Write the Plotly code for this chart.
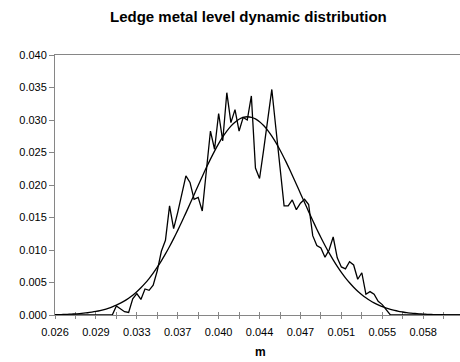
import plotly.graph_objects as go

# Bin positions of the metal level, m
level_m = [
    0.025700, 0.026062, 0.026424, 0.026786, 0.027148, 0.027510, 0.027872, 0.028234, 0.028596, 0.028958,
    0.029320, 0.029682, 0.030044, 0.030406, 0.030768, 0.031130, 0.031492, 0.031854, 0.032216, 0.032578,
    0.032940, 0.033302, 0.033664, 0.034026, 0.034388, 0.034750, 0.035112, 0.035474, 0.035836, 0.036198,
    0.036560, 0.036922, 0.037284, 0.037646, 0.038008, 0.038370, 0.038732, 0.039094, 0.039456, 0.039818,
    0.040180, 0.040542, 0.040904, 0.041266, 0.041628, 0.041990, 0.042352, 0.042714, 0.043076, 0.043438,
    0.043800, 0.044162, 0.044524, 0.044886, 0.045248, 0.045610, 0.045972, 0.046334, 0.046696, 0.047058,
    0.047420, 0.047782, 0.048144, 0.048506, 0.048868, 0.049230, 0.049592, 0.049954, 0.050316, 0.050678,
    0.051040, 0.051402, 0.051764, 0.052126, 0.052488, 0.052850, 0.053212, 0.053574, 0.053936, 0.054298,
    0.054660, 0.055022, 0.055384, 0.055746, 0.056108, 0.056470, 0.056832, 0.057194, 0.057556, 0.057918,
    0.058280, 0.058642, 0.059004, 0.059366, 0.059728, 0.060090, 0.060452, 0.060814, 0.061176, 0.061538,
]

# Observed relative frequency per bin
observed = [
    0, 0, 0, 0, 0, 0, 0, 0, 0, 0,
    0, 0, 0, 0, 0, 0.0014, 0.0010, 0.0005, 0.0004, 0.0025,
    0.0033, 0.0024, 0.0040, 0.0038, 0.0046, 0.0068, 0.0098, 0.0115, 0.0168, 0.0133,
    0.0158, 0.0185, 0.0214, 0.0204, 0.0178, 0.0181, 0.0160, 0.0222, 0.0283, 0.0255,
    0.0310, 0.0268, 0.0342, 0.0296, 0.0316, 0.0283, 0.0304, 0.0300, 0.0337, 0.0226,
    0.0210, 0.0254, 0.0299, 0.0347, 0.0287, 0.0228, 0.0168, 0.0168, 0.0177, 0.0162,
    0.0172, 0.0178, 0.0170, 0.0122, 0.0107, 0.0103, 0.0089, 0.0100, 0.0120, 0.0088,
    0.0074, 0.0071, 0.0082, 0.0077, 0.0055, 0.0065, 0.0032, 0.0036, 0.0032, 0.0021,
    0.0016, 0.0008, 0, 0, 0, 0, 0, 0, 0, 0,
    0, 0, 0, 0, 0, 0, 0, 0, 0, 0,
]

# Fitted normal distribution per bin
fitted = [
    0.00005, 0.00006, 0.00008, 0.00010, 0.00014, 0.00017, 0.00022, 0.00028, 0.00035, 0.00044,
    0.00055, 0.00068, 0.00084, 0.00103, 0.00125, 0.00151, 0.00182, 0.00217, 0.00258, 0.00305,
    0.00358, 0.00419, 0.00486, 0.00561, 0.00644, 0.00735, 0.00834, 0.00940, 0.01054, 0.01175,
    0.01302, 0.01434, 0.01571, 0.01710, 0.01851, 0.01993, 0.02132, 0.02268, 0.02398, 0.02521,
    0.02636, 0.02739, 0.02829, 0.02906, 0.02967, 0.03012, 0.03040, 0.03050, 0.03042, 0.03017,
    0.02974, 0.02915, 0.02841, 0.02752, 0.02651, 0.02538, 0.02416, 0.02287, 0.02151, 0.02012,
    0.01871, 0.01730, 0.01590, 0.01453, 0.01320, 0.01192, 0.01070, 0.00955, 0.00848, 0.00748,
    0.00656, 0.00572, 0.00496, 0.00428, 0.00366, 0.00312, 0.00264, 0.00222, 0.00186, 0.00155,
    0.00128, 0.00106, 0.00086, 0.00070, 0.00057, 0.00046, 0.00036, 0.00029, 0.00023, 0.00018,
    0.00014, 0.00011, 0.00008, 0.00006, 0.00005, 0.00004, 0.00003, 0.00002, 0.00002, 0.00001,
]

x_tick_labels = ["0.026", "0.029", "0.033", "0.037", "0.040",
                 "0.044", "0.047", "0.051", "0.055", "0.058"]
y_tick_values = [0.000, 0.005, 0.010, 0.015, 0.020, 0.025, 0.030, 0.035, 0.040]

AXIS_GREY = "#868686"
FONT = "Liberation Sans, Arial, sans-serif"

# ticks every 5 bins, labels every 10 bins
tick_vals = level_m[::5]
tick_text = []
for j in range(len(tick_vals)):
    tick_text.append(x_tick_labels[j // 2] if j % 2 == 0 else "")

fig = go.Figure()
fig.add_trace(go.Scatter(x=level_m, y=observed, mode="lines",
                         line=dict(color="black", width=1.3),
                         showlegend=False, hoverinfo="skip"))
fig.add_trace(go.Scatter(x=level_m, y=fitted, mode="lines",
                         line=dict(color="black", width=1.3, shape="spline", smoothing=0.6),
                         showlegend=False, hoverinfo="skip", xaxis="x2"))

x_range = [level_m[0], level_m[-1]]

fig.update_layout(
    width=460, height=362,
    margin=dict(l=55, r=0, t=55, b=47),
    paper_bgcolor="white", plot_bgcolor="white",
    font=dict(family=FONT, size=11, color="black"),
    title=dict(text="<b>Ledge metal level dynamic distribution</b>",
               font=dict(family=FONT, size=15, color="black"),
               x=0.54, xanchor="center", xref="container",
               y=1 - 17 / 362, yanchor="middle", yref="container"),
    xaxis=dict(range=x_range, tickmode="array", tickvals=tick_vals, ticktext=tick_text,
               showgrid=False, zeroline=False, showline=True, linecolor=AXIS_GREY,
               linewidth=1, mirror=True, ticks="outside", ticklen=3, tickcolor=AXIS_GREY,
               tickwidth=1, ticklabelstandoff=4, layer="below traces",
               tickfont=dict(family=FONT, size=11, color="black")),
    xaxis2=dict(range=x_range, overlaying="x", matches="x", tickmode="array",
                tickvals=tick_vals, ticks="inside", ticklen=3, tickcolor=AXIS_GREY,
                showticklabels=False, showgrid=False, zeroline=False, showline=False,
                layer="below traces", side="bottom"),
    yaxis=dict(range=[0, 0.040], tickmode="array", tickvals=y_tick_values,
               tickformat=".3f", showgrid=False, zeroline=False, showline=True,
               linecolor=AXIS_GREY, linewidth=1, mirror=True, ticks="outside",
               ticklen=5, tickcolor=AXIS_GREY, tickwidth=1, layer="below traces",
               tickfont=dict(family=FONT, size=11, color="black")),
    annotations=[dict(text="<b>m</b>", xref="paper", yref="paper",
                      x=(260.5 - 55) / 405, y=(315 - 352) / 260,
                      xanchor="center", yanchor="middle", showarrow=False,
                      font=dict(family=FONT, size=12, color="black"))],
)

fig.write_html("out.html")
